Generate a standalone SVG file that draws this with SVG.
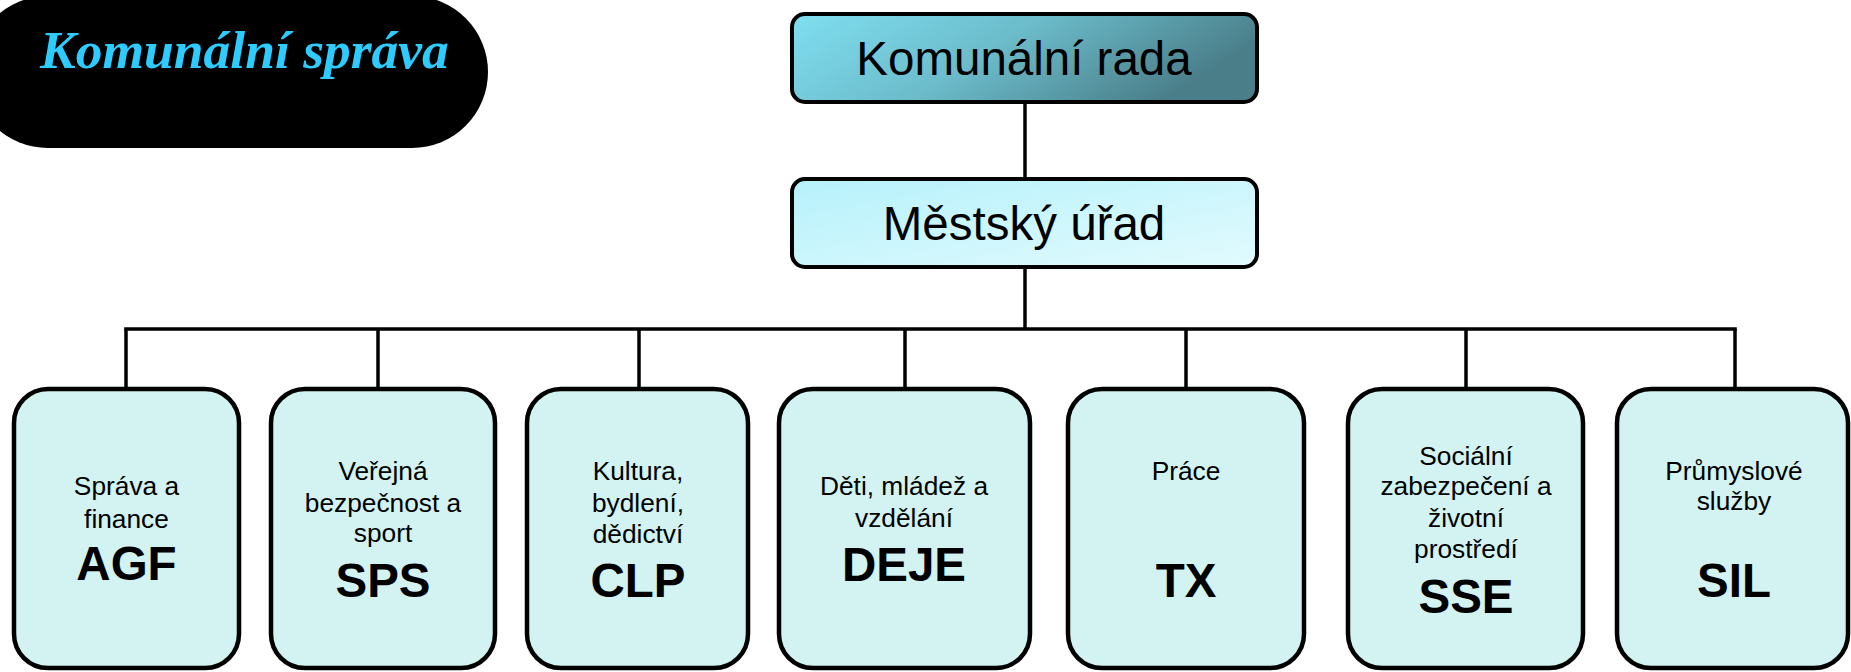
<svg xmlns="http://www.w3.org/2000/svg" width="1851" height="672" viewBox="0 0 1851 672">
<style>
.unit{fill:#d2f3f1;stroke:#000;stroke-width:4.5}
.top{stroke:#000;stroke-width:4}
.t{font-family:"Liberation Sans",Arial,sans-serif;font-size:26.3px;fill:#000;text-anchor:middle}
.b{font-family:"Liberation Sans",Arial,sans-serif;font-size:47.5px;font-weight:bold;fill:#000;text-anchor:middle}
.h{font-family:"Liberation Sans",Arial,sans-serif;font-size:47.5px;fill:#000;text-anchor:middle}
.c{fill:none;stroke:#000;stroke-width:3.5}
</style>
<defs>
<linearGradient id="g1" x1="0" y1="0" x2="1" y2="0.3">
<stop offset="0" stop-color="#7fdff0"/>
<stop offset="0.5" stop-color="#6cbccb"/>
<stop offset="1" stop-color="#4a7f8a"/>
</linearGradient>
<linearGradient id="g2" x1="0" y1="0" x2="1" y2="1">
<stop offset="0" stop-color="#b6f1fb"/>
<stop offset="1" stop-color="#e2fbfe"/>
</linearGradient>
</defs>
<g id="title">
<rect x="-28" y="-4" width="516" height="152" rx="76" fill="#000"/>
<text x="40" y="68" font-family="'Liberation Serif','Times New Roman',serif" font-size="53.5" font-weight="bold" font-style="italic" fill="#2ecbff">Komunální správa</text>
</g>
<g id="connectors">
<line class="c" x1="1025" y1="102" x2="1025" y2="179"/>
<line class="c" x1="1025" y1="267" x2="1025" y2="330"/>
<line class="c" x1="124.2" y1="329" x2="1736.8" y2="329" stroke-width="4"/>
<line class="c" x1="126" y1="329" x2="126" y2="389"/>
<line class="c" x1="378" y1="329" x2="378" y2="389"/>
<line class="c" x1="639" y1="329" x2="639" y2="389"/>
<line class="c" x1="905" y1="329" x2="905" y2="389"/>
<line class="c" x1="1186" y1="329" x2="1186" y2="389"/>
<line class="c" x1="1466" y1="329" x2="1466" y2="389"/>
<line class="c" x1="1735" y1="329" x2="1735" y2="389"/>
</g>
<g id="rada">
<rect class="top" x="792" y="14" width="465" height="88" rx="13" fill="url(#g1)"/>
<text class="h" x="1024" y="75">Komunální rada</text>
</g>
<g id="urad">
<rect class="top" x="792" y="179" width="465" height="88" rx="13" fill="url(#g2)"/>
<text class="h" x="1024" y="240">Městský úřad</text>
</g>
<g id="agf">
<rect class="unit" x="14" y="389" width="225" height="279" rx="34"/>
<text class="t" x="126.5" y="495">Správa a</text>
<text class="t" x="126.5" y="528">finance</text>
<text class="b" x="126.5" y="580">AGF</text>
</g>
<g id="sps">
<rect class="unit" x="271" y="389" width="224" height="279" rx="34"/>
<text class="t" x="383" y="480">Veřejná</text>
<text class="t" x="383" y="512">bezpečnost a</text>
<text class="t" x="383" y="542">sport</text>
<text class="b" x="383" y="597">SPS</text>
</g>
<g id="clp">
<rect class="unit" x="527" y="389" width="221" height="279" rx="34"/>
<text class="t" x="638" y="480">Kultura,</text>
<text class="t" x="638" y="512">bydlení,</text>
<text class="t" x="638" y="543">dědictví</text>
<text class="b" x="638" y="597">CLP</text>
</g>
<g id="deje">
<rect class="unit" x="779" y="389" width="251" height="279" rx="34"/>
<text class="t" x="904" y="495">Děti, mládež a</text>
<text class="t" x="904" y="527">vzdělání</text>
<text class="b" x="904" y="581">DEJE</text>
</g>
<g id="tx">
<rect class="unit" x="1068" y="389" width="236" height="279" rx="34"/>
<text class="t" x="1186" y="480">Práce</text>
<text class="b" x="1186" y="597">TX</text>
</g>
<g id="sse">
<rect class="unit" x="1348" y="389" width="235" height="279" rx="34"/>
<text class="t" x="1466" y="465">Sociální</text>
<text class="t" x="1466" y="495">zabezpečení a</text>
<text class="t" x="1466" y="527">životní</text>
<text class="t" x="1466" y="558">prostředí</text>
<text class="b" x="1466" y="613">SSE</text>
</g>
<g id="sil">
<rect class="unit" x="1617" y="389" width="231" height="279" rx="34"/>
<text class="t" x="1734" y="480">Průmyslové</text>
<text class="t" x="1734" y="510">služby</text>
<text class="b" x="1734" y="597">SIL</text>
</g>
</svg>
